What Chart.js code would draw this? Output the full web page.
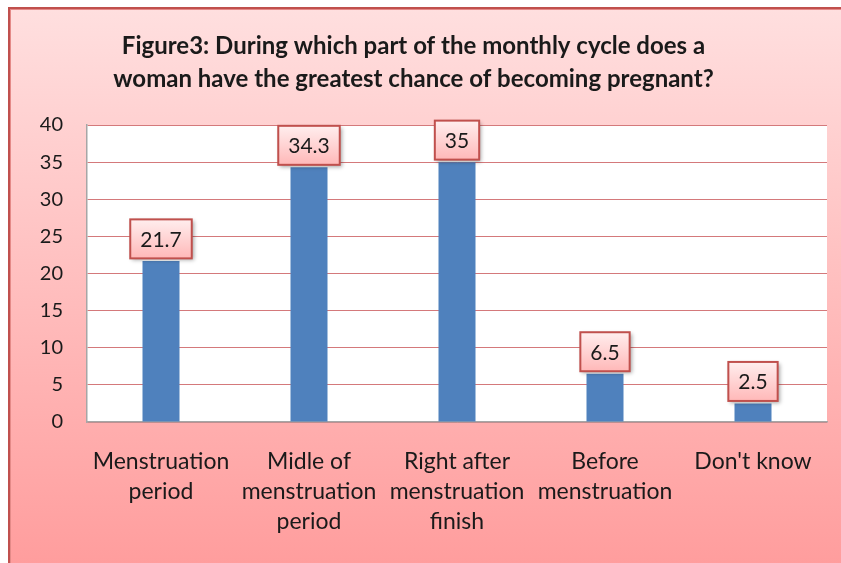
<!DOCTYPE html>
<html>
<head>
<meta charset="utf-8">
<script src="https://cdn.jsdelivr.net/npm/chart.js@4.4.0/dist/chart.umd.min.js"></script>
<style>
  html, body { margin: 0; padding: 0; background: #fff; overflow: hidden; }
  body { width: 841px; height: 563px; position: relative; }
  #frame {
    position: absolute; left: 8px; top: 7px; width: 900px; height: 600px;
    border-left: 2px solid #c0504d; border-top: 2px solid #c0504d;
    box-shadow: inset 1px 1px 0 #e48a88;
    background: linear-gradient(#ffdfdf 0px, #ff9d9d 556px);
  }
  #wrap { position: absolute; left: 0; top: 0; width: 841px; height: 563px; }
  #chart { display: block; width: 841px; height: 563px; }
</style>
</head>
<body>
<div id="frame"></div>
<div id="wrap"><canvas id="chart" width="841" height="563"></canvas></div>
<script>
// data
const categories = [
  ["Menstruation", "period"],
  ["Midle of", "menstruation", "period"],
  ["Right after", "menstruation", "finish"],
  ["Before", "menstruation"],
  ["Don't know"]
];
const percentages = [21.7, 34.3, 35, 6.5, 2.5];
const titleLines = [
  "Figure3: During which part of the monthly cycle does a",
  "woman have the greatest chance of becoming pregnant?"
];

const FONT = "Lato, 'Open Sans', sans-serif";

// white plot area
const plotBg = {
  id: "plotBg",
  beforeDraw(chart) {
    const { ctx, chartArea: a } = chart;
    ctx.save();
    ctx.fillStyle = "#ffffff";
    ctx.fillRect(a.left, a.top, a.right - a.left, a.bottom - a.top);
    ctx.restore();
  }
};

// boxed value labels above the bars
const boxLabels = {
  id: "boxLabels",
  afterDatasetsDraw(chart) {
    const { ctx } = chart;
    const meta = chart.getDatasetMeta(0);
    ctx.save();
    ctx.font = "21px " + FONT;
    meta.data.forEach((bar, i) => {
      const txt = String(percentages[i]);
      const w = ctx.measureText(txt).width + 20;
      const h = 39;
      const cx = bar.x;
      const cy = bar.y - 22;
      const x = cx - w / 2, y = cy - h / 2;

      ctx.save();
      ctx.shadowColor = "rgba(0,0,0,0.35)";
      ctx.shadowBlur = 4;
      ctx.shadowOffsetX = 2;
      ctx.shadowOffsetY = 2;
      const g = ctx.createLinearGradient(0, y, 0, y + h);
      g.addColorStop(0, "#ffeeee");
      g.addColorStop(1, "#ffb8b8");
      ctx.fillStyle = g;
      ctx.fillRect(x, y, w, h);
      ctx.restore();

      ctx.strokeStyle = "#c0504d";
      ctx.lineWidth = 2;
      ctx.strokeRect(x, y, w, h);

      ctx.fillStyle = "#1a1a1a";
      ctx.textAlign = "center";
      ctx.textBaseline = "middle";
      ctx.fillText(txt, cx, cy + 1);
    });
    ctx.restore();
  }
};

const ctx = document.getElementById("chart").getContext("2d");
new Chart(ctx, {
  type: "bar",
  data: {
    labels: categories,
    datasets: [{
      data: percentages,
      backgroundColor: "#4f81bd",
      barPercentage: 0.25,
      categoryPercentage: 1.0
    }]
  },
  options: {
    responsive: false,
    animation: false,
    devicePixelRatio: 1,
    layout: { padding: { top: 0, right: 14, bottom: 0, left: 0 } },
    plugins: {
      legend: { display: false },
      tooltip: { enabled: false },
      title: {
        display: true,
        text: titleLines,
        color: "#1a1a1a",
        font: { family: FONT, size: 24, weight: "bold", lineHeight: 1.375 },
        padding: { top: 30, bottom: 29 }
      }
    },
    scales: {
      x: {
        grid: { display: false, drawTicks: false },
        border: { color: "#a6a6a6", width: 1.5 },
        ticks: {
          color: "#1a1a1a",
          padding: 25,
          maxRotation: 0,
          autoSkip: false,
          font: { family: FONT, size: 23, lineHeight: 1.3 }
        },
        afterFit(s) { s.height = 141; }
      },
      y: {
        min: 0,
        max: 40,
        grid: { color: "#d4797b", lineWidth: 1, drawTicks: false },
        border: { color: "#a6a6a6", width: 1.5 },
        ticks: {
          stepSize: 5,
          color: "#1a1a1a",
          padding: 24,
          font: { family: FONT, size: 20 }
        },
        afterFit(s) { s.width = 87; }
      }
    }
  },
  plugins: [plotBg, boxLabels]
});
</script>
</body>
</html>
